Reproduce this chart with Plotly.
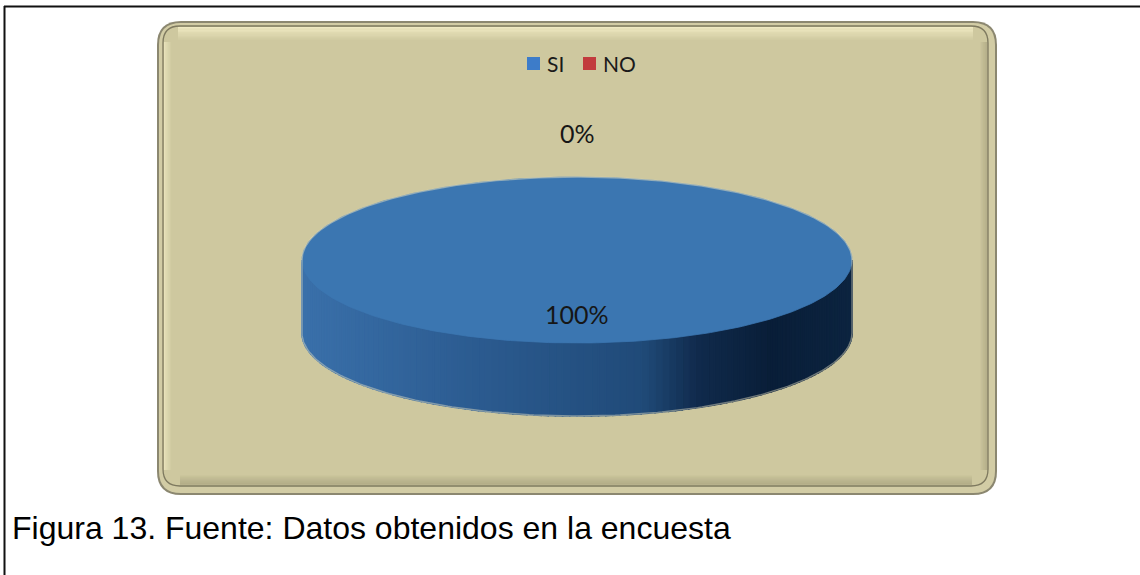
import numpy as np
import plotly.graph_objects as go

# Survey answers
categories = ["SI", "NO"]
values = [100, 0]
top_colors = ["#3B76B1", "#C0504D"]
legend_colors = ["#3D7CC9", "#C23B3D"]
caption = "Figura 13. Fuente: Datos obtenidos en la encuesta"

W, H = 1140, 575

# 3D pie geometry (drawing units = pixels)
CX, CY, RX, RY, DEPTH = 577, 260, 275, 83, 73
LABEL_IN, LABEL_OUT = 0.65, 1.53

# side-wall shading, left (lit) to right (shadow)
SIDE_STOPS = [
    (0.00, (58, 112, 170)),
    (0.30, (44, 92, 145)),
    (0.62, (32, 74, 120)),
    (0.72, (16, 42, 76)),
    (0.85, (9, 30, 56)),
    (1.00, (12, 36, 64)),
]
SIDE_STOPS_RED = [(s, (min(255, int(c[2] * 1.2)), int(c[1] * 0.45), int(c[0] * 0.45))) for s, c in SIDE_STOPS]


def shade(t, stops):
    t = min(max(t, 0.0), 1.0)
    for (t0, c0), (t1, c1) in zip(stops[:-1], stops[1:]):
        if t <= t1:
            f = (t - t0) / (t1 - t0) if t1 > t0 else 0
            return "rgb(%d,%d,%d)" % tuple(round(a + (b - a) * f) for a, b in zip(c0, c1))
    return "rgb(%d,%d,%d)" % stops[-1][1]


def rim(theta_deg, dy=0.0):
    t = np.radians(theta_deg)
    return CX + RX * np.sin(t), CY - RY * np.cos(t) + dy


fig = go.Figure()

total = float(sum(values))
start = 0.0
slices = []
for cat, val, col in zip(categories, values, top_colors):
    span = 360.0 * val / total
    slices.append((cat, val, col, start, start + span))
    start += span

# side walls (front half of the rim: 90..270 deg clockwise from 12 o'clock)
for idx, (cat, val, col, a0, a1) in enumerate(slices):
    lo, hi = max(a0, 90.0), min(a1, 270.0)
    if hi <= lo:
        continue
    n = max(2, int((hi - lo) / 1.5))
    edges = np.linspace(lo, hi, n + 1)
    stops = SIDE_STOPS if idx == 0 else SIDE_STOPS_RED
    for e0, e1 in zip(edges[:-1], edges[1:]):
        th = np.linspace(e0, e1, 4)
        xt, yt = rim(th)
        xb, yb = rim(th[::-1], DEPTH)
        xs = np.concatenate([xt, xb, xt[:1]])
        ys = np.concatenate([yt, yb, yt[:1]])
        c = shade((xs.mean() - (CX - RX)) / (2 * RX), stops)
        fig.add_trace(go.Scatter(x=xs, y=ys, mode="lines", fill="toself",
                                 fillcolor=c, line=dict(color=c, width=1.6),
                                 hoverinfo="skip", showlegend=False))

# top faces
for cat, val, col, a0, a1 in slices:
    if a1 - a0 <= 0:
        continue
    th = np.linspace(a0, a1, 361)
    xs, ys = rim(th)
    if a1 - a0 < 360:
        xs = np.concatenate([[CX], xs, [CX]])
        ys = np.concatenate([[CY], ys, [CY]])
    fig.add_trace(go.Scatter(x=xs, y=ys, mode="lines", fill="toself",
                             fillcolor=col, line=dict(color=col, width=0.8),
                             hoverinfo="skip", showlegend=False, name=cat))

# soft light halo around the silhouette: top arc left->right, then front rim right->left
xu, yu = rim(np.linspace(270, 450, 181))
xd, yd = rim(np.linspace(90, 270, 181), DEPTH)
fig.add_trace(go.Scatter(x=np.concatenate([xu, xd, xu[:1]]), y=np.concatenate([yu, yd, yu[:1]]),
                         mode="lines", line=dict(color="rgba(236,228,196,0.45)", width=1.4),
                         hoverinfo="skip", showlegend=False))

annotations = []
# percentage labels
for cat, val, col, a0, a1 in slices:
    mid = (a0 + a1) / 2.0
    r = LABEL_IN if a1 > a0 else LABEL_OUT
    t = np.radians(mid)
    annotations.append(dict(x=CX + r * RX * np.sin(t), y=CY - r * RY * np.cos(t),
                            text="%d%%" % round(100 * val / total), showarrow=False,
                            font=dict(family="Lato", size=25, color="#161616"),
                            xanchor="center", yanchor="middle"))

# legend
LEG_X = [527, 583]
LEG_Y = 63.5
SQ = 13
shapes = []
for cat, c, lx in zip(categories, legend_colors, LEG_X):
    shapes.append(dict(type="rect", xref="x", yref="y", x0=lx, x1=lx + SQ,
                       y0=LEG_Y - SQ / 2, y1=LEG_Y + SQ / 2, fillcolor=c, line=dict(width=0),
                       layer="above"))
    annotations.append(dict(x=lx + SQ + 5, y=LEG_Y, text=cat, showarrow=False,
                            xanchor="left", yanchor="middle",
                            font=dict(family="Lato", size=21, color="#1a1a1a")))

annotations.append(dict(x=10, y=528, text=caption, showarrow=False,
                        xanchor="left", yanchor="middle",
                        font=dict(family="Liberation Sans, Arial", size=32, color="#000000")))


def rounded(x0, y0, x1, y1, r):
    return (f"M{x0 + r},{y0} L{x1 - r},{y0} Q{x1},{y0} {x1},{y0 + r} "
            f"L{x1},{y1 - r} Q{x1},{y1} {x1 - r},{y1} L{x0 + r},{y1} "
            f"Q{x0},{y1} {x0},{y1 - r} L{x0},{y0 + r} Q{x0},{y0} {x0 + r},{y0} Z")


TAN = "#CEC89F"
panel = [
    dict(path=rounded(157, 21, 997, 495, 24), fillcolor="#8B8770", line=dict(width=0)),
    dict(path=rounded(159, 23, 995, 493, 22), fillcolor="#D2CCA5", line=dict(width=0)),
    dict(path=rounded(163, 26, 988, 486, 17), fillcolor=TAN, line=dict(color="#7E795F", width=1.3)),
]
for p in panel:
    shapes.append(dict(type="path", xref="x", yref="y", layer="below", **p))

# bevel highlights (top / left) and shading (bottom / right)
for i in range(10):
    a = 0.75 * (1 - i / 10.0)
    shapes.append(dict(type="rect", xref="x", yref="y", layer="below",
                       x0=178, x1=973, y0=27 + i * 1.3, y1=28.3 + i * 1.3,
                       fillcolor="rgba(250,244,205,%.3f)" % a, line=dict(width=0)))
for i in range(6):
    a = 0.6 * (1 - i / 6.0)
    shapes.append(dict(type="rect", xref="x", yref="y", layer="below",
                       x0=164 + i * 1.2, x1=165.2 + i * 1.2, y0=42, y1=470,
                       fillcolor="rgba(250,244,205,%.3f)" % a, line=dict(width=0)))
for i in range(9):
    a = 0.35 * (i / 9.0)
    shapes.append(dict(type="rect", xref="x", yref="y", layer="below",
                       x0=180, x1=972, y0=474 + i * 1.2, y1=475.2 + i * 1.2,
                       fillcolor="rgba(110,104,78,%.3f)" % a, line=dict(width=0)))
for i in range(7):
    a = 0.3 * (i / 7.0)
    shapes.append(dict(type="rect", xref="x", yref="y", layer="below",
                       x0=979 + i * 1.2, x1=980.2 + i * 1.2, y0=42, y1=470,
                       fillcolor="rgba(110,104,78,%.3f)" % a, line=dict(width=0)))

# page frame
shapes.append(dict(type="line", xref="x", yref="y", x0=4, x1=W, y0=6.5, y1=6.5,
                   line=dict(color="#111111", width=2.2), layer="above"))
shapes.append(dict(type="line", xref="x", yref="y", x0=4.5, x1=4.5, y0=6, y1=H,
                   line=dict(color="#111111", width=2), layer="above"))

fig.update_layout(
    width=W, height=H,
    margin=dict(l=0, r=0, t=0, b=0),
    paper_bgcolor="white", plot_bgcolor="white",
    xaxis=dict(range=[0, W], visible=False, fixedrange=True),
    yaxis=dict(range=[H, 0], visible=False, fixedrange=True),
    showlegend=False,
    shapes=shapes,
    annotations=annotations,
)

fig.write_html("out.html")
